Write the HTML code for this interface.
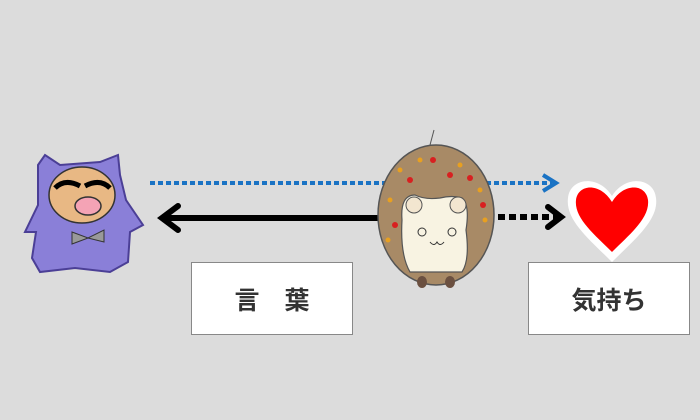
<!DOCTYPE html>
<html><head><meta charset="utf-8"><style>
body{margin:0;background:#dcdcdc;}
.box{position:absolute;background:#fff;border:1px solid #888;box-sizing:border-box;display:flex;align-items:center;justify-content:center;font-family:"Liberation Sans","Noto Sans CJK JP",sans-serif;font-weight:bold;font-size:25px;color:#333;}
</style></head><body>
<div style="position:relative;width:700px;height:420px;overflow:hidden;background:#dcdcdc">
<svg width="700" height="420" style="position:absolute;left:0;top:0">
<!-- blue dotted arrow -->
<line x1="150" y1="183" x2="552" y2="183" stroke="#1a73c4" stroke-width="4" stroke-dasharray="5,3"/>
<polyline points="543,175 556,183 543,191" fill="none" stroke="#1a73c4" stroke-width="4"/>
<!-- black solid arrow -->
<line x1="162" y1="218" x2="390" y2="218" stroke="#000" stroke-width="6"/>
<polyline points="178,206 162,218 178,230" fill="none" stroke="#000" stroke-width="6" stroke-linecap="round"/>
<!-- black dotted -->
<line x1="498" y1="217" x2="560" y2="217" stroke="#000" stroke-width="6" stroke-dasharray="7,4"/>
<polyline points="548,207 561,217 548,227" fill="none" stroke="#000" stroke-width="6" stroke-linecap="round"/>
<!-- pig -->
<g>
<path d="M38,165 L45,155 L60,165 L100,162 L118,155 L120,175 L126,200 L143,225 L130,232 L128,262 L110,272 L75,268 L40,272 L32,258 L36,232 L25,232 L38,205 Z" fill="#8a7fd8" stroke="#4b3f96" stroke-width="2"/>
<ellipse cx="82" cy="195" rx="33" ry="28" fill="#e8b884" stroke="#333" stroke-width="1.5"/>
<path d="M55,188 Q65,178 80,186 M85,186 Q100,178 110,188" stroke="#000" stroke-width="5" fill="none"/>
<ellipse cx="88" cy="206" rx="13" ry="9" fill="#f4a3b5" stroke="#333" stroke-width="1.5"/>
<path d="M72,232 L88,238 L104,230 L104,242 L88,238 L72,244 Z" fill="#999" stroke="#333"/>
</g>
<!-- hedgehog -->
<line x1="430" y1="145" x2="434" y2="130" stroke="#555" stroke-width="1"/>
<ellipse cx="436" cy="215" rx="58" ry="70" fill="#a88a66" stroke="#555" stroke-width="1.5"/>
<g fill="#e8a020"><circle cx="400" cy="170" r="2.5"/><circle cx="420" cy="160" r="2.5"/><circle cx="460" cy="165" r="2.5"/><circle cx="480" cy="190" r="2.5"/><circle cx="390" cy="200" r="2.5"/><circle cx="485" cy="220" r="2.5"/><circle cx="388" cy="240" r="2.5"/></g>
<g fill="#d82020"><circle cx="433" cy="160" r="3"/><circle cx="450" cy="175" r="3"/><circle cx="410" cy="180" r="3"/><circle cx="470" cy="178" r="3"/><circle cx="395" cy="225" r="3"/><circle cx="483" cy="205" r="3"/></g>
<path d="M402,220 Q400,195 415,195 Q425,200 440,198 Q452,195 462,198 Q470,205 466,230 Q470,260 462,272 L410,272 Q400,255 402,220 Z" fill="#f8f3e2" stroke="#555" stroke-width="1.2"/>
<circle cx="414" cy="205" r="8" fill="#f3e6d0" stroke="#555"/><circle cx="458" cy="205" r="8" fill="#f3e6d0" stroke="#555"/>
<circle cx="422" cy="232" r="4" fill="none" stroke="#333"/><circle cx="452" cy="232" r="4" fill="none" stroke="#333"/>
<path d="M430,242 q4,5 7,0 q3,5 7,0" fill="none" stroke="#333"/>
<ellipse cx="422" cy="282" rx="5" ry="6" fill="#6b5040"/><ellipse cx="450" cy="282" rx="5" ry="6" fill="#6b5040"/>
<!-- heart -->
<path d="M612,262 C590,240 565,220 568,198 C570,178 598,174 612,196 C626,174 654,178 656,198 C659,220 634,240 612,262 Z" fill="#fff"/>
<path d="M612,252 C594,234 574,218 576,200 C578,184 600,182 612,202 C624,182 646,184 648,200 C650,218 630,234 612,252 Z" fill="#f00"/>
</svg>
<div class="box" style="left:191px;top:262px;width:162px;height:73px;">言　葉</div>
<div class="box" style="left:528px;top:262px;width:162px;height:73px;">気持ち</div>
</div>
</body></html>
